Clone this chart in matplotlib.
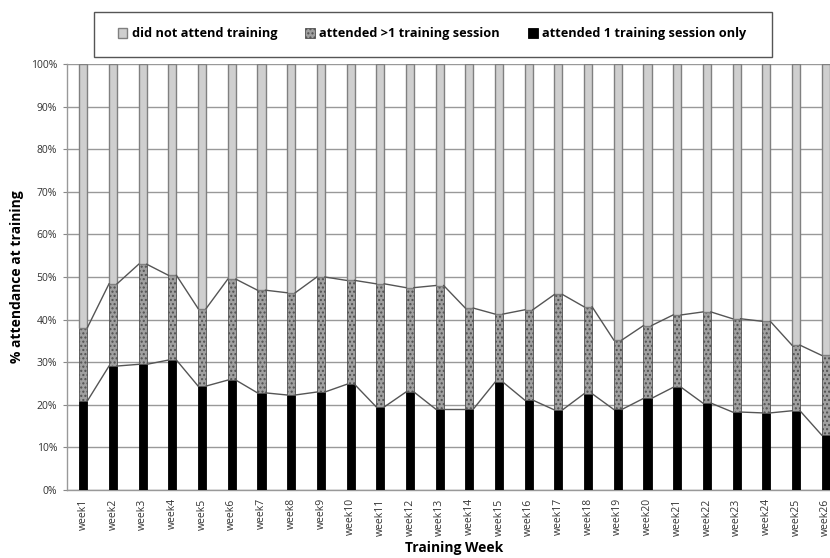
import matplotlib.pyplot as plt
from matplotlib.patches import Rectangle
import numpy as np

plt.rcParams['font.family'] = ['Open Sans', 'DejaVu Sans']

weeks = [f"week{i}" for i in range(1, 27)]

# % attended 1 training session only (bottom segment)
one_session = [20.9, 29.1, 29.5, 30.5, 24.4, 25.8, 22.8, 22.3, 23.0, 24.8,
               19.5, 23.0, 19.0, 19.0, 25.3, 21.1, 18.8, 22.6, 18.9, 21.5,
               24.1, 20.4, 18.3, 18.1, 18.6, 12.9]
# cumulative top of the ">1 session" segment
attended_total = [38.1, 48.4, 53.0, 50.4, 42.6, 49.5, 46.9, 46.3, 50.0, 49.2,
                  48.4, 47.5, 48.0, 42.7, 41.3, 42.3, 45.9, 43.0, 35.2, 38.6,
                  41.1, 41.8, 40.2, 39.6, 34.0, 31.6]

one = np.array(one_session)
total = np.array(attended_total)
multi = total - one
none = 100 - total

x = np.arange(len(weeks))
w = 0.27

fig = plt.figure(figsize=(8.3, 5.58), dpi=100)
ax = fig.add_axes([67 / 830, 68 / 558, 775 / 830, 426 / 558])

ax.bar(x, one, w, color='black', edgecolor='black', linewidth=0.6, zorder=3,
       label='attended 1 training session only')
ax.bar(x, multi, w, bottom=one, color='#a0a0a0', edgecolor='#505050',
       hatch='....', linewidth=0.6, zorder=3, label='attended >1 training session')
ax.bar(x, none, w, bottom=total, color='#cfcfcf', edgecolor='#808080',
       linewidth=1.0, zorder=3, label='did not attend training')

# series lines joining the segment tops from bar to bar
for tops in (one, total):
    for i in range(len(x) - 1):
        ax.plot([x[i] + w / 2, x[i + 1] - w / 2], [tops[i], tops[i + 1]],
                color='#555555', linewidth=1.0, zorder=4)

ax.set_xlim(-0.55, 25.55)
ax.set_ylim(0, 100)
ax.set_yticks(np.arange(0, 101, 10))
ax.set_yticklabels([f"{v}%" for v in range(0, 101, 10)], fontsize=7.5, color='#333333')
ax.set_xticks(x)
ax.set_xticklabels(weeks, rotation=90, fontsize=7.5, color='#333333')
ax.tick_params(axis='x', length=0, pad=6)
ax.tick_params(axis='y', length=3, color='#888888', pad=4)

ax.grid(axis='y', color='#999999', linewidth=1.0, zorder=0)
for s in ['top', 'right']:
    ax.spines[s].set_visible(False)
for s in ['left', 'bottom']:
    ax.spines[s].set_color('#999999')
    ax.spines[s].set_linewidth(1.0)

ax.set_ylabel('% attendance at training', fontsize=10, fontweight='bold', labelpad=5)
ax.set_xlabel('Training Week', fontsize=10, fontweight='bold', labelpad=4)

# legend frame drawn separately to match the wide box
fig.patches.append(Rectangle((94 / 830, 1 - 57 / 558), 678 / 830, 45 / 558,
                             transform=fig.transFigure, facecolor='white',
                             edgecolor='#555555', linewidth=1.0))
h, l = ax.get_legend_handles_labels()
leg = fig.legend(h[::-1], l[::-1], loc='center', bbox_to_anchor=(432 / 830, 1 - 34 / 558),
                 ncol=3, frameon=False, prop={'weight': 'bold', 'size': 9.2},
                 handlelength=0.75, handleheight=0.75, columnspacing=2.2,
                 handletextpad=0.35, borderaxespad=0)

fig.savefig('out.png', dpi=100)
